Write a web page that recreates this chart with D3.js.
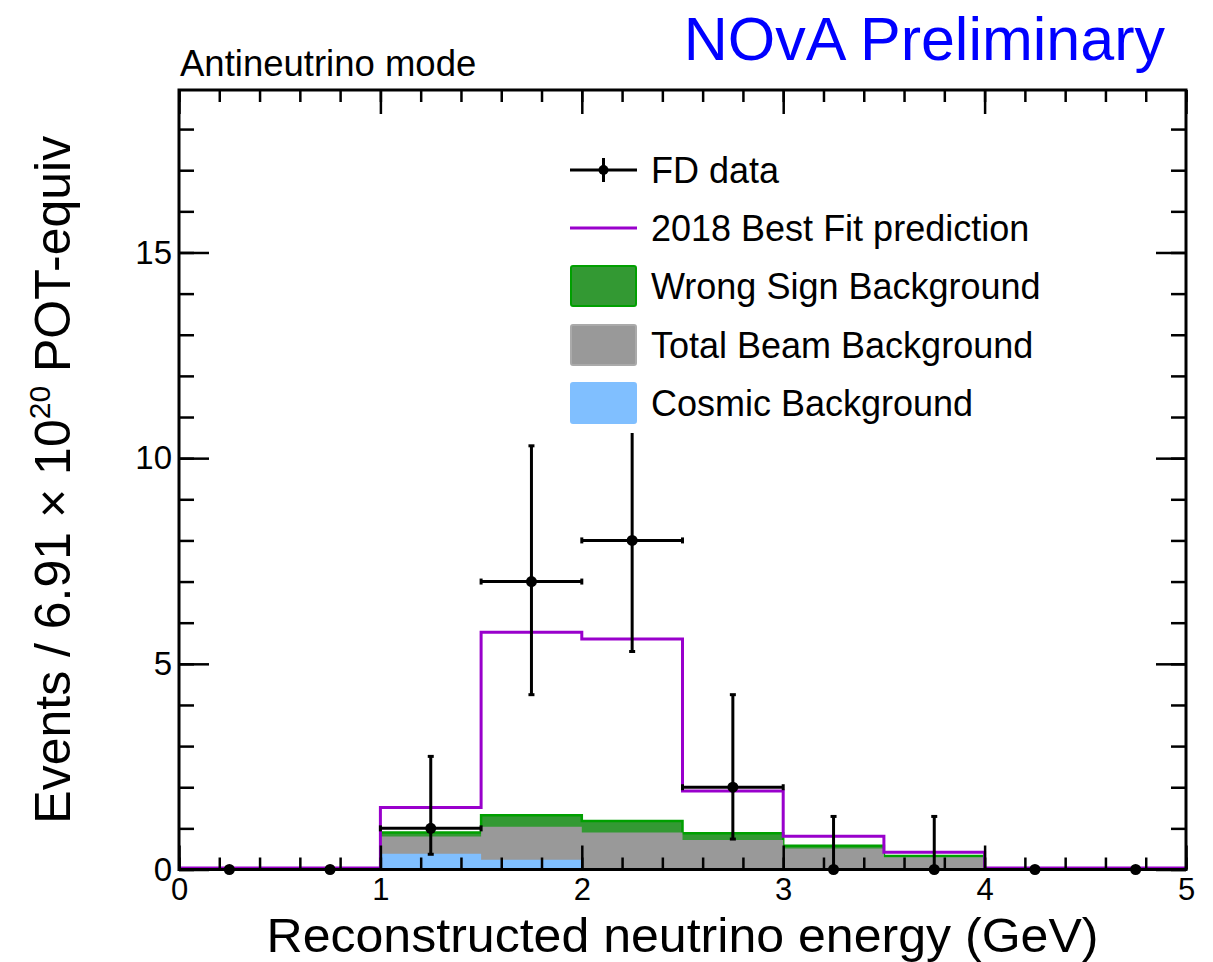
<!DOCTYPE html>
<html>
<head>
<meta charset="utf-8">
<script src="https://cdn.jsdelivr.net/npm/d3@7"></script>
<style>
  html, body { margin: 0; padding: 0; background: #fff; }
  svg { display: block; }
  text { font-family: "Liberation Sans", Arial, Helvetica, sans-serif; }
</style>
</head>
<body>
<svg id="chart" width="1213" height="962"></svg>
<script>
// ---------------- data ----------------
const binEdges   = [0, 0.5, 1, 1.5, 2, 2.5, 3, 3.5, 4, 4.5, 5];
const binCenters = [0.25, 0.75, 1.25, 1.75, 2.25, 2.75, 3.25, 3.75, 4.25, 4.75];
const prediction = [0, 0, 1.47, 5.73, 5.57, 1.87, 0.77, 0.38, 0, 0];
const cosmicBkg  = [0, 0, 0.38, 0.24, 0.02, 0, 0, 0, 0, 0];
const beamBkg    = [0, 0, 0.42, 0.80, 0.88, 0.72, 0.51, 0.30, 0, 0];
const wrongSign  = [0, 0, 0.10, 0.28, 0.28, 0.16, 0.07, 0.03, 0, 0];
const dataCounts = [0, 0, 1, 7, 8, 2, 0, 0, 0, 0];
const dataErrLow = [0, 0, 0.63, 2.75, 2.70, 1.26, 0, 0, 0, 0];
const dataErrHigh= [0, 0, 1.75, 3.30, 3.32, 2.25, 1.29, 1.29, 0, 0];
const xMajorTicks = [0, 1, 2, 3, 4, 5];
const yMajorTicks = [0, 5, 10, 15];
const legendLabels = ["FD data", "2018 Best Fit prediction", "Wrong Sign Background", "Total Beam Background", "Cosmic Background"];

// ---------------- layout ----------------
const L = 179, R = 1186, T = 90, B = 869.5;
const yMax = 18.95;
const svg = d3.select("#chart");
const x = d3.scaleLinear().domain([0, 5]).range([L, R]);
const y = d3.scaleLinear().domain([0, yMax]).range([B, T]);

const colors = {
  green: "#339933", greenLine: "#00a000", gray: "#999999",
  blue: "#80bfff", purple: "#9900cc"
};

// stacked tops
const grayTop  = cosmicBkg.map((c, i) => c + beamBkg[i]);
const greenTop = grayTop.map((g, i) => g + wrongSign[i]);

function stepPoints(vals) {
  return binEdges.map((e, i) => [e, vals[Math.min(i, vals.length - 1)]]);
}
const area = d3.area().curve(d3.curveStepAfter)
  .x(d => x(d[0])).y0(y(0)).y1(d => y(d[1]));
const line = d3.line().curve(d3.curveStepAfter)
  .x(d => x(d[0])).y(d => y(d[1]));

const plot = svg.append("g");
plot.append("path").attr("d", area(stepPoints(greenTop))).attr("fill", colors.green);
plot.append("path").attr("d", line(stepPoints(greenTop))).attr("fill", "none")
  .attr("stroke", colors.greenLine).attr("stroke-width", 2.5);
plot.append("path").attr("d", area(stepPoints(grayTop))).attr("fill", colors.gray);
plot.append("path").attr("d", area(stepPoints(cosmicBkg))).attr("fill", colors.blue);
plot.append("path").attr("d", line(stepPoints(prediction))).attr("fill", "none")
  .attr("stroke", colors.purple).attr("stroke-width", 3).attr("transform", "translate(0,-1.5)");

// data points
const dg = plot.append("g").attr("stroke", "#000").attr("stroke-width", 3);
binCenters.forEach((c, i) => {
  const n = dataCounts[i];
  const cx = x(c), cy = y(n);
  if (n > 0) {
    const hw = (binEdges[i + 1] - binEdges[i]) / 2;
    dg.append("line").attr("x1", x(c - hw)).attr("x2", x(c + hw)).attr("y1", cy).attr("y2", cy);
    [x(c - hw), x(c + hw)].forEach(ex => dg.append("line").attr("x1", ex).attr("x2", ex)
      .attr("y1", cy - 3).attr("y2", cy + 3));
  }
  if (dataErrHigh[i] > 0) {
    const yl = y(n - dataErrLow[i]), yh = y(n + dataErrHigh[i]);
    dg.append("line").attr("x1", cx).attr("x2", cx).attr("y1", yl).attr("y2", yh);
    dg.append("line").attr("x1", cx - 3).attr("x2", cx + 3).attr("y1", yh).attr("y2", yh);
    if (dataErrLow[i] > 0)
      dg.append("line").attr("x1", cx - 3).attr("x2", cx + 3).attr("y1", yl).attr("y2", yl);
  }
  plot.append("circle").attr("cx", cx).attr("cy", cy).attr("r", 5.5).attr("fill", "#000");
});

// ---------------- legend ----------------
const lg = svg.append("g");
lg.append("rect").attr("x", 555).attr("y", 140).attr("width", 505).attr("height", 293).attr("fill", "#fff");
const rowY = [170, 228, 286, 345, 403];
const symX0 = 570, symX1 = 637, txtX = 651;
legendLabels.forEach((lab, i) => {
  const ry = rowY[i];
  if (i === 0) {
    lg.append("line").attr("x1", symX0).attr("x2", symX1).attr("y1", ry).attr("y2", ry).attr("stroke", "#000").attr("stroke-width", 3);
    lg.append("line").attr("x1", (symX0 + symX1) / 2).attr("x2", (symX0 + symX1) / 2).attr("y1", ry - 12).attr("y2", ry + 12).attr("stroke", "#000").attr("stroke-width", 3);
    lg.append("circle").attr("cx", (symX0 + symX1) / 2).attr("cy", ry).attr("r", 5).attr("fill", "#000");
  } else if (i === 1) {
    lg.append("line").attr("x1", symX0).attr("x2", symX1).attr("y1", ry).attr("y2", ry).attr("stroke", colors.purple).attr("stroke-width", 3);
  } else {
    const fill = [null, null, colors.green, colors.gray, colors.blue][i];
    const stroke = [null, null, colors.greenLine, "#aaaaaa", colors.blue][i];
    lg.append("rect").attr("x", symX0 + 1).attr("y", ry - 20).attr("width", symX1 - symX0 - 2).attr("height", 40)
      .attr("rx", 2).attr("fill", fill).attr("stroke", stroke).attr("stroke-width", 2);
  }
  lg.append("text").attr("x", txtX).attr("y", ry + 12.5).attr("font-size", 36).attr("fill", "#000").text(lab);
});

// ---------------- axes ----------------
const xMinor = d3.range(0, 5.0001, 0.2).map(v => +v.toFixed(2));
const yMinor = d3.range(0, 19, 1);
const axG = svg.append("g");
function styleAxis(g) {
  g.select(".domain").remove();
  g.selectAll(".tick line").attr("stroke", "#000").attr("stroke-width", 2.5);
}
// bottom
axG.append("g").attr("transform", `translate(0,${B})`)
  .call(d3.axisBottom(x).tickValues(xMinor).tickSize(-12).tickFormat(""))
  .call(styleAxis);
axG.append("g").attr("transform", `translate(0,${B})`)
  .call(d3.axisBottom(x).tickValues(xMajorTicks).tickSize(-24).tickPadding(6).tickFormat(d3.format("d")))
  .call(styleAxis)
  .call(g => g.selectAll("text").attr("font-size", 31).attr("fill", "#000").attr("dy", "0.78em")
    .attr("font-family", '"Liberation Sans", Arial, sans-serif'));
// top
axG.append("g").attr("transform", `translate(0,${T})`)
  .call(d3.axisTop(x).tickValues(xMinor).tickSize(-12).tickFormat("")).call(styleAxis);
axG.append("g").attr("transform", `translate(0,${T})`)
  .call(d3.axisTop(x).tickValues(xMajorTicks).tickSize(-24).tickFormat("")).call(styleAxis);
// left
axG.append("g").attr("transform", `translate(${L},0)`)
  .call(d3.axisLeft(y).tickValues(yMinor).tickSize(-15).tickFormat("")).call(styleAxis);
axG.append("g").attr("transform", `translate(${L},0)`)
  .call(d3.axisLeft(y).tickValues(yMajorTicks).tickSize(-30).tickPadding(7).tickFormat(d3.format("d")))
  .call(styleAxis)
  .call(g => g.selectAll("text").attr("font-size", 33).attr("fill", "#000")
    .attr("font-family", '"Liberation Sans", Arial, sans-serif'));
// right
axG.append("g").attr("transform", `translate(${R},0)`)
  .call(d3.axisRight(y).tickValues(yMinor).tickSize(-15).tickFormat("")).call(styleAxis);
axG.append("g").attr("transform", `translate(${R},0)`)
  .call(d3.axisRight(y).tickValues(yMajorTicks).tickSize(-30).tickFormat("")).call(styleAxis);
// frame
axG.append("rect").attr("x", L).attr("y", T).attr("width", R - L).attr("height", B - T)
  .attr("fill", "none").attr("stroke", "#000").attr("stroke-width", 3);

// ---------------- titles ----------------
svg.append("text").attr("x", 1165).attr("y", 60).attr("text-anchor", "end")
  .attr("font-size", 61).attr("fill", "#0000ff").text("NOvA Preliminary");
svg.append("text").attr("x", 180).attr("y", 76).attr("font-size", 36.5).attr("fill", "#000")
  .text("Antineutrino mode");
svg.append("text").attr("x", (L + R) / 2).attr("y", 951.5).attr("text-anchor", "middle")
  .attr("font-size", 48).attr("fill", "#000")
  .attr("textLength", 832).attr("lengthAdjust", "spacingAndGlyphs")
  .text("Reconstructed neutrino energy (GeV)");
const yt = svg.append("text").attr("transform", `translate(70,${(T + B) / 2}) rotate(-90)`)
  .attr("text-anchor", "middle").attr("font-size", 50).attr("fill", "#000");
yt.append("tspan").text("Events / 6.91 × 10");
yt.append("tspan").attr("font-size", 30).attr("dy", -20).text("20");
yt.append("tspan").attr("dy", 20).text(" POT-equiv");
</script>
</body>
</html>
